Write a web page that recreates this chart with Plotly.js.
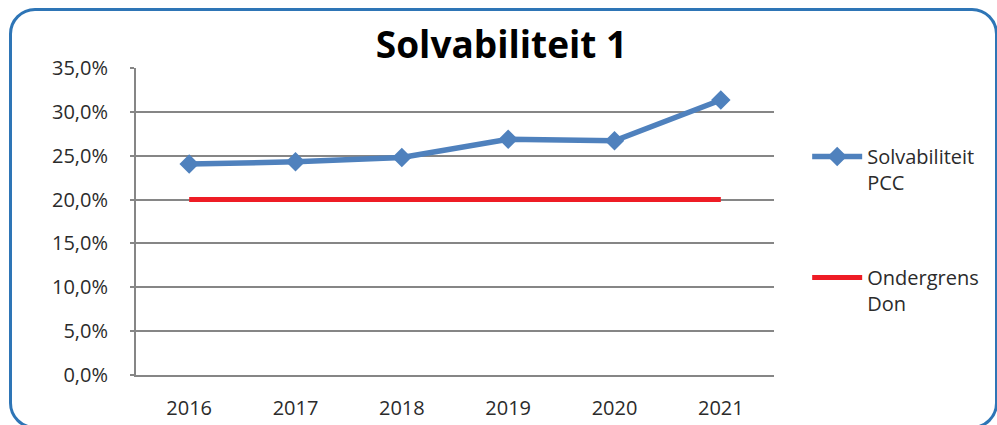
<!DOCTYPE html>
<html>
<head>
<meta charset="utf-8">
<script src="https://cdn.plot.ly/plotly-3.0.1.min.js"></script>
<style>
  html, body { margin: 0; padding: 0; background: #ffffff; }
  #wrap { position: relative; width: 997px; height: 425px; overflow: hidden; }
  #chart { width: 997px; height: 425px; }
  #frame { position: absolute; left: 9px; top: 8px; width: 983px; height: 415px;
           border: 3px solid #2E75B6; border-radius: 26px; pointer-events: none; }
</style>
</head>
<body>
<div id="wrap">
  <div id="chart"></div>
  <div id="frame"></div>
</div>
<script>
const years = ['2016', '2017', '2018', '2019', '2020', '2021'];
const solvabiliteitPCC = [0.2405, 0.243, 0.248, 0.2687, 0.267, 0.3135];
const ondergrensDon = [0.20, 0.20, 0.20, 0.20, 0.20, 0.20];
const yTickVals = [0, 0.05, 0.10, 0.15, 0.20, 0.25, 0.30, 0.35];
const yTickText = ['0,0%', '5,0%', '10,0%', '15,0%', '20,0%', '25,0%', '30,0%', '35,0%'];

const fontFam = '"Open Sans", "Liberation Sans", sans-serif';
const textColor = '#2b2b2b';

const traces = [
  {
    x: years, y: solvabiliteitPCC, type: 'scatter', mode: 'lines+markers',
    name: 'Solvabiliteit<br>PCC', legendgroup: 'a',
    line: { color: '#4F81BD', width: 5.5 },
    marker: { symbol: 'diamond', size: 15, color: '#4F81BD' }
  },
  {
    x: years, y: ondergrensDon, type: 'scatter', mode: 'lines',
    name: 'Ondergrens<br>Don', legendgroup: 'b',
    line: { color: '#EE1C25', width: 5 }
  }
];

const layout = {
  width: 997, height: 425,
  margin: { l: 136, r: 223, t: 68, b: 50, pad: 0 },
  paper_bgcolor: '#ffffff', plot_bgcolor: '#ffffff',
  font: { family: fontFam, size: 20, color: textColor },
  title: {
    text: '<b>Solvabiliteit 1</b>',
    font: { family: fontFam, size: 37, color: '#000000' },
    x: 0.503, xref: 'container', xanchor: 'center',
    y: 0.893, yref: 'container', yanchor: 'middle'
  },
  xaxis: {
    type: 'category', range: [-0.5, 5.5],
    showline: true, linecolor: '#868686', linewidth: 2,
    showgrid: false, ticks: '', tickfont: { family: fontFam, size: 20, color: textColor },
    ticklabelstandoff: 14, zeroline: false, fixedrange: true
  },
  yaxis: {
    range: [0, 0.35], tickvals: yTickVals, ticktext: yTickText,
    showline: true, linecolor: '#868686', linewidth: 2,
    showgrid: true, gridcolor: '#868686', gridwidth: 2,
    ticks: 'outside', ticklen: 4, tickcolor: '#868686', tickwidth: 2,
    tickfont: { family: fontFam, size: 20, color: textColor },
    ticklabelstandoff: 18, zeroline: false, fixedrange: true
  },
  showlegend: true,
  legend: {
    x: 1.052, xref: 'paper', xanchor: 'left', y: 0.775, yanchor: 'top',
    traceorder: 'grouped', tracegroupgap: 66, valign: 'top',
    itemwidth: 50, font: { family: fontFam, size: 20, color: textColor },
    bgcolor: 'rgba(0,0,0,0)'
  }
};

Plotly.newPlot('chart', traces, layout, { displayModeBar: false, staticPlot: true });
</script>
</body>
</html>
